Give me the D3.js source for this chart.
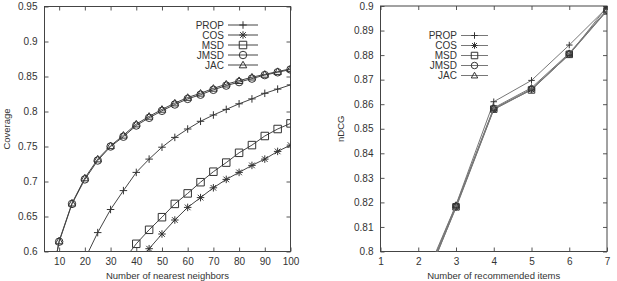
<!DOCTYPE html>
<html>
<head>
<meta charset="utf-8">
<script src="https://cdn.jsdelivr.net/npm/d3@7"></script>
<style>
  body { margin: 0; background: #fff; }
  svg text { font-family: "Liberation Sans", Arial, sans-serif; fill: #333; }
</style>
</head>
<body>
<svg id="chart" width="617" height="281"></svg>
<script>
const width = 617;
const height = 281;

// series names + marker type
const seriesNames = ["PROP", "COS", "MSD", "JMSD", "JAC"];
const markers = ["plus", "star", "square", "circle", "triangle"];

// left panel: coverage vs number of nearest neighbors
const kValues = [5, 10, 15, 20, 25, 30, 35, 40, 45, 50, 55, 60, 65, 70, 75, 80, 85, 90, 95, 100];
const covProp = [0.50, 0.54, 0.565, 0.589, 0.627, 0.660, 0.687, 0.713, 0.732, 0.749, 0.763, 0.775, 0.786, 0.795, 0.803, 0.811, 0.818, 0.826, 0.832, 0.838];
const covCos  = [0.40, 0.44, 0.48, 0.51, 0.535, 0.555, 0.570, 0.580, 0.604, 0.625, 0.645, 0.663, 0.677, 0.691, 0.703, 0.713, 0.723, 0.732, 0.743, 0.752];
const covMsd  = [0.42, 0.46, 0.50, 0.53, 0.555, 0.572, 0.587, 0.611, 0.631, 0.649, 0.668, 0.683, 0.699, 0.714, 0.727, 0.741, 0.752, 0.765, 0.775, 0.783];
const covJmsd = [0.52, 0.614, 0.668, 0.703, 0.730, 0.750, 0.764, 0.780, 0.791, 0.801, 0.810, 0.818, 0.824, 0.831, 0.837, 0.842, 0.847, 0.852, 0.856, 0.860];
const covJac  = [0.52, 0.615, 0.669, 0.705, 0.732, 0.751, 0.766, 0.782, 0.793, 0.803, 0.812, 0.820, 0.826, 0.833, 0.839, 0.844, 0.849, 0.853, 0.857, 0.861];

// right panel: nDCG vs number of recommended items
const nValues = [2, 3, 4, 5, 6, 7];
const ndcgProp = [0.783, 0.8190, 0.8610, 0.8697, 0.8841, 0.8993];
const ndcgCos  = [0.781, 0.8178, 0.8578, 0.8660, 0.8802, 0.8997];
const ndcgMsd  = [0.780, 0.8182, 0.8580, 0.8658, 0.8803, 0.8980];
const ndcgJmsd = [0.781, 0.8185, 0.8582, 0.8662, 0.8805, 0.8982];
const ndcgJac  = [0.782, 0.8188, 0.8585, 0.8667, 0.8808, 0.8985];

const leftTicksX = [10, 20, 30, 40, 50, 60, 70, 80, 90, 100];
const leftTicksY = [0.6, 0.65, 0.7, 0.75, 0.8, 0.85, 0.9, 0.95];
const rightTicksX = [1, 2, 3, 4, 5, 6, 7];
const rightTicksY = [0.8, 0.81, 0.82, 0.83, 0.84, 0.85, 0.86, 0.87, 0.88, 0.89, 0.9];

const svg = d3.select("#chart");

function marker(g, type, x, y, s, color) {
  const h = s / 2;
  let d;
  if (type === "plus") d = `M${x - h},${y}H${x + h}M${x},${y - h}V${y + h}`;
  else if (type === "star") d = `M${x - h},${y}H${x + h}M${x},${y - h}V${y + h}M${x - h * 0.75},${y - h * 0.75}L${x + h * 0.75},${y + h * 0.75}M${x - h * 0.75},${y + h * 0.75}L${x + h * 0.75},${y - h * 0.75}`;
  else if (type === "square") d = `M${x - h},${y - h}H${x + h}V${y + h}H${x - h}Z`;
  else if (type === "triangle") d = `M${x},${y - h}L${x + h},${y + h * 0.75}L${x - h},${y + h * 0.75}Z`;
  if (type === "circle") {
    g.append("circle").attr("cx", x).attr("cy", y).attr("r", h)
      .attr("fill", "none").attr("stroke", color).attr("stroke-width", 1);
  } else {
    g.append("path").attr("d", d).attr("fill", "none")
      .attr("stroke", color).attr("stroke-width", 1);
  }
}

function panel(opts) {
  const { id, xs, series, xDomain, yDomain, box, xTicks, yTicks,
          xTitle, yTitle, yTitleX, legend, lineColor, ms } = opts;

  const x = d3.scaleLinear().domain(xDomain).range([box.left, box.right]);
  const y = d3.scaleLinear().domain(yDomain).range([box.bottom, box.top]);
  const g = svg.append("g");
  const fmt = d3.format("");

  g.append("clipPath").attr("id", id)
    .append("rect").attr("x", box.left).attr("y", box.top)
    .attr("width", box.right - box.left).attr("height", box.bottom - box.top);

  // axes, inward ticks on all four sides
  const axBottom = g.append("g").attr("transform", `translate(0,${box.bottom})`)
    .call(d3.axisBottom(x).tickValues(xTicks).tickSizeInner(-4).tickSizeOuter(0).tickPadding(6).tickFormat(fmt));
  const axTop = g.append("g").attr("transform", `translate(0,${box.top})`)
    .call(d3.axisTop(x).tickValues(xTicks).tickSizeInner(-4).tickSizeOuter(0).tickFormat(""));
  const axLeft = g.append("g").attr("transform", `translate(${box.left},0)`)
    .call(d3.axisLeft(y).tickValues(yTicks).tickSizeInner(-4).tickSizeOuter(0).tickPadding(7).tickFormat(fmt));
  const axRight = g.append("g").attr("transform", `translate(${box.right},0)`)
    .call(d3.axisRight(y).tickValues(yTicks).tickSizeInner(-4).tickSizeOuter(0).tickFormat(""));
  [axBottom, axTop, axLeft, axRight].forEach(a => {
    a.select(".domain").remove();
    a.selectAll("line").attr("stroke", "#555");
    a.selectAll("text").attr("font-size", 10).style("fill", "#333");
  });

  g.append("rect").attr("x", box.left).attr("y", box.top)
    .attr("width", box.right - box.left).attr("height", box.bottom - box.top)
    .attr("fill", "none").attr("stroke", "#444").attr("stroke-width", 1);

  const plot = g.append("g").attr("clip-path", `url(#${id})`);
  const line = d3.line().x((d, i) => x(xs[i])).y(d => y(d));

  series.forEach((vals, si) => {
    plot.append("path").datum(vals).attr("d", line)
      .attr("fill", "none").attr("stroke", lineColor).attr("stroke-width", 1);
    vals.forEach((v, i) => {
      if (v >= yDomain[0] && v <= yDomain[1] && xs[i] >= xDomain[0])
        marker(plot, markers[si], x(xs[i]), y(v), ms, "#333");
    });
  });

  // legend
  seriesNames.forEach((name, i) => {
    const ly = legend.y + i * legend.dy;
    g.append("text").attr("x", legend.x).attr("y", ly + 3.5)
      .attr("text-anchor", "end").attr("font-size", 10).text(name);
    g.append("line").attr("x1", legend.x + 4).attr("x2", legend.x + 4 + legend.len)
      .attr("y1", ly).attr("y2", ly).attr("stroke", lineColor);
    marker(g, markers[i], legend.x + 4 + legend.len / 2, ly, ms, "#333");
  });

  // titles
  g.append("text").attr("x", (box.left + box.right) / 2).attr("y", 278.5)
    .attr("text-anchor", "middle").attr("font-size", 9.5).text(xTitle);
  g.append("text").attr("transform", `translate(${yTitleX},${(box.top + box.bottom) / 2}) rotate(-90)`)
    .attr("text-anchor", "middle").attr("font-size", 9.5).text(yTitle);
}

panel({
  id: "clipL",
  xs: kValues,
  series: [covProp, covCos, covMsd, covJmsd, covJac],
  xDomain: [4.3, 100],
  yDomain: [0.6, 0.95],
  box: { left: 44.5, right: 290.5, top: 6.5, bottom: 251.5 },
  xTicks: leftTicksX,
  yTicks: leftTicksY,
  xTitle: "Number of nearest neighbors",
  yTitle: "Coverage",
  yTitleX: 10,
  legend: { x: 224, y: 25, dy: 10, len: 30 },
  lineColor: "#444",
  ms: 7.5
});

panel({
  id: "clipR",
  xs: nValues,
  series: [ndcgProp, ndcgCos, ndcgMsd, ndcgJmsd, ndcgJac],
  xDomain: [1, 7],
  yDomain: [0.8, 0.9],
  box: { left: 380.5, right: 607, top: 6, bottom: 251.5 },
  xTicks: rightTicksX,
  yTicks: rightTicksY,
  xTitle: "Number of recommended items",
  yTitle: "nDCG",
  yTitleX: 344,
  legend: { x: 457, y: 35.5, dy: 10, len: 27 },
  lineColor: "#777",
  ms: 6.5
});
</script>
</body>
</html>
